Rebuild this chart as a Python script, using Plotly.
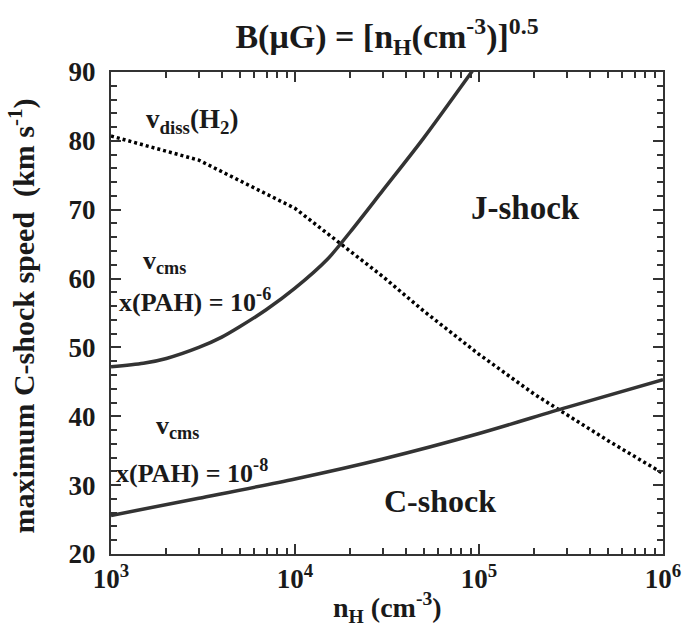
import plotly.graph_objects as go

# ---- data ----
nh_diss = [1e3, 3e3, 1e4, 2e4, 3e4, 5e4, 1e5, 2e5, 3e5, 5e5, 1e6]
v_diss = [80.7, 77.2, 70.2, 64.0, 60.3, 55.3, 49.0, 43.2, 40.2, 36.5, 31.7]

nh_pah6 = [1e3, 1.5e3, 2e3, 3e3, 4e3, 5e3, 7e3, 1e4, 1.5e4, 2e4, 3e4, 5e4, 1e5]
v_pah6 = [47.2, 47.7, 48.4, 50.0, 51.5, 53.0, 55.5, 58.6, 62.8, 66.8, 72.8, 80.4, 91.5]

nh_pah8 = [1e3, 3e3, 1e4, 3e4, 1e5, 3e5, 1e6]
v_pah8 = [25.6, 28.1, 30.9, 33.8, 37.5, 41.3, 45.3]

x_tickvals = [1e3, 1e4, 1e5, 1e6]
x_ticktext = ["10<sup>3</sup>", "10<sup>4</sup>", "10<sup>5</sup>", "10<sup>6</sup>"]
x_minor = [m * 10 ** k for k in (3, 4, 5) for m in range(2, 10)]

FONT = "Liberation Serif"
LINE_C = "#333333"
TXT_C = "#1a1a1a"

fig = go.Figure()
fig.add_trace(go.Scatter(x=nh_diss, y=v_diss, mode="lines",
                         line=dict(color="black", width=3.5, dash="3px,3px"),
                         showlegend=False))
fig.add_trace(go.Scatter(x=nh_pah6, y=v_pah6, mode="lines",
                         line=dict(color=LINE_C, width=3.5, shape="spline", smoothing=0.8),
                         showlegend=False))
fig.add_trace(go.Scatter(x=nh_pah8, y=v_pah8, mode="lines",
                         line=dict(color=LINE_C, width=3.5, shape="spline", smoothing=0.8),
                         showlegend=False))

axis_common = dict(showgrid=False, zeroline=False, showline=True, linecolor=LINE_C,
                   linewidth=2, ticks="inside", tickcolor=LINE_C, tickwidth=2,
                   ticklen=10, mirror="ticks", automargin=False,
                   tickfont=dict(family=FONT, size=27, color=TXT_C, weight="bold"))

fig.update_xaxes(type="log", range=[3, 6], tickmode="array", tickvals=x_tickvals,
                 ticktext=x_ticktext,
                 minor=dict(tickmode="array", tickvals=x_minor, ticks="inside",
                            ticklen=6, tickwidth=1.5, tickcolor=LINE_C, showgrid=False),
                 **axis_common)
fig.update_yaxes(range=[20, 90], dtick=10, tick0=20, ticklabelstandoff=8,
                 minor=dict(dtick=2, ticks="inside", ticklen=6, tickwidth=1.5,
                            tickcolor=LINE_C, showgrid=False),
                 **axis_common)

def ann(text, x, y, size, xanchor="left", ref="data"):
    xr, yr = ("x", "y") if ref == "data" else ("paper", "paper")
    fig.add_annotation(text=text, x=x, y=y, xref=xr, yref=yr, showarrow=False,
                       xanchor=xanchor, yanchor="middle",
                       align=xanchor if xanchor != "center" else "center",
                       font=dict(family=FONT, size=size, color=TXT_C))

ann("<b>v<sub>diss</sub>(H<sub>2</sub>)</b>", 3.18, 82.9, 27)
ann("<b>v<sub>cms</sub></b>", 3.165, 62.4, 26)
ann("<b>x(PAH) = 10<sup>-6</sup></b>", 0.011, 0.525, 26, ref="paper")
ann("<b>v<sub>cms</sub></b>", 3.235, 38.4, 26)
ann("<b>x(PAH) = 10<sup>-8</sup></b>", 0.006, 0.172, 26, ref="paper")
ann("<b>J-shock</b>", 5.25, 70.3, 33, xanchor="center")
ann("<b>C-shock</b>", 4.788, 27.7, 32, xanchor="center")

# axis titles
fig.add_annotation(text="<b>n<sub>H</sub> (cm<sup>-3</sup>)</b>", x=0.5, y=-0.112,
                   xref="paper", yref="paper", showarrow=False, xanchor="center",
                   yanchor="middle", font=dict(family=FONT, size=28, color=TXT_C))
fig.add_annotation(text="<b>maximum C-shock speed  (km s<sup>-1</sup>)</b>",
                   x=-0.16, y=0.494, xref="paper", yref="paper", showarrow=False,
                   textangle=-90, xanchor="center", yanchor="middle",
                   font=dict(family=FONT, size=30, color=TXT_C))

fig.update_layout(
    width=684, height=641,
    margin=dict(l=111, r=21, t=72, b=87, autoexpand=False),
    paper_bgcolor="white", plot_bgcolor="white",
    title=dict(text="<b>B(μG) = [n<sub>H</sub>(cm<sup>-3</sup>)]<sup>0.5</sup></b>",
               x=0.5, xref="paper", xanchor="center",
               y=1 - 36 / 641, yref="container", yanchor="middle",
               font=dict(family=FONT, size=34, color=TXT_C)),
)

# remove the browser's default body margin and scrollbars so the figure sits at the page origin
fig.write_html(
    "out.html",
    config={"displayModeBar": False},
    post_script=("document.body.style.margin='0';"
                 "document.body.style.overflow='hidden';"
                 "document.documentElement.style.overflow='hidden';"),
)
